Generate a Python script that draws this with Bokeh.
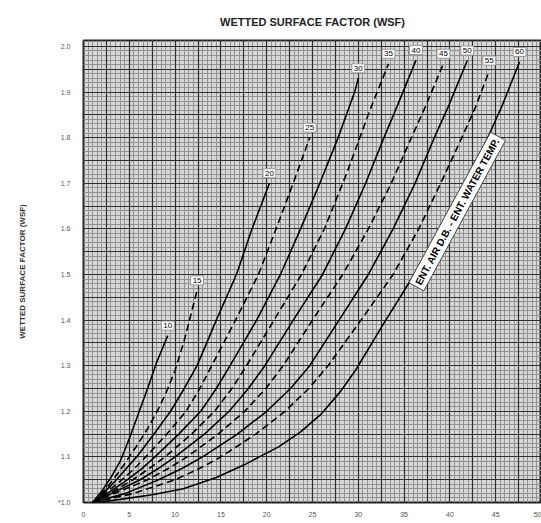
from bokeh.plotting import figure
from bokeh.models import (Grid, SingleIntervalTicker, FixedTicker, Label,
                          Title, Range1d)
from bokeh.embed import file_html
from bokeh.resources import INLINE

# ---- data (ENT. AIR D.B. - ENT. WATER TEMP. curves) ----
wsf_10_x = [1.0, 2.0, 3.0, 4.0, 5.0, 6.0, 7.0, 8.0, 9.2]
wsf_10_y = [1.0, 1.025, 1.055, 1.09, 1.14, 1.195, 1.25, 1.308, 1.366]

wsf_15_x = [1.0, 2.0, 3.0, 4.0, 5.0, 6.0, 7.0, 8.0, 9.0, 10.0, 11.0, 12.4]
wsf_15_y = [1.0, 1.02, 1.044, 1.07, 1.10, 1.13, 1.162, 1.198, 1.24, 1.29, 1.355, 1.465]

wsf_20_x = [1.0, 2.4, 3.6, 4.7, 5.8, 7.7, 9.5, 11.0, 12.4, 14.5, 16.7, 18.4, 20.3]
wsf_20_y = [1.0, 1.025, 1.05, 1.075, 1.10, 1.15, 1.20, 1.25, 1.30, 1.40, 1.50, 1.60, 1.70]

wsf_25_x = [1.0, 2.7, 4.2, 5.6, 6.8, 9.1, 11.2, 12.7, 14.0, 16.6, 19.1, 21.1, 23.0, 24.7]
wsf_25_y = [1.0, 1.025, 1.05, 1.075, 1.10, 1.15, 1.20, 1.25, 1.30, 1.40, 1.50, 1.604, 1.706, 1.80]

wsf_30_x = [1.0, 3.0, 4.8, 6.4, 7.8, 10.4, 12.8, 14.5, 16.0, 18.9, 21.5, 23.7, 25.8, 27.8, 29.6, 30.0]
wsf_30_y = [1.0, 1.025, 1.05, 1.075, 1.10, 1.15, 1.20, 1.25, 1.30, 1.40, 1.50, 1.60, 1.70, 1.80, 1.90, 1.93]

wsf_35_x = [1.0, 3.3, 5.4, 7.2, 8.9, 11.8, 14.3, 16.2, 17.8, 20.8, 23.8, 26.3, 28.7, 31.4, 33.3]
wsf_35_y = [1.0, 1.025, 1.05, 1.075, 1.10, 1.15, 1.20, 1.25, 1.30, 1.40, 1.50, 1.60, 1.72, 1.867, 1.962]

wsf_40_x = [1.0, 3.6, 6.2, 8.2, 10.0, 13.2, 15.9, 18.0, 19.8, 22.9, 26.1, 28.6, 30.8, 32.8, 34.2, 36.3]
wsf_40_y = [1.0, 1.025, 1.05, 1.075, 1.10, 1.15, 1.20, 1.25, 1.30, 1.40, 1.50, 1.60, 1.70, 1.80, 1.867, 1.97]

wsf_45_x = [1.0, 4.0, 7.0, 9.3, 11.3, 14.7, 17.6, 19.9, 21.8, 25.0, 28.3, 31.1, 33.6, 35.8, 37.3, 39.3]
wsf_45_y = [1.0, 1.025, 1.05, 1.075, 1.10, 1.15, 1.20, 1.25, 1.30, 1.40, 1.50, 1.60, 1.70, 1.80, 1.867, 1.962]

wsf_50_x = [1.0, 4.6, 8.2, 10.8, 13.0, 16.8, 20.0, 22.6, 24.7, 27.9, 31.1, 33.8, 36.2, 38.3, 39.8, 41.9]
wsf_50_y = [1.0, 1.02, 1.05, 1.075, 1.10, 1.15, 1.20, 1.25, 1.30, 1.40, 1.50, 1.60, 1.70, 1.80, 1.867, 1.969]

wsf_55_x = [1.0, 5.5, 10.0, 12.7, 15.0, 18.8, 22.0, 24.6, 26.7, 30.3, 33.8, 36.6, 39.0, 41.3, 42.8, 44.3]
wsf_55_y = [1.0, 1.02, 1.05, 1.075, 1.10, 1.15, 1.20, 1.25, 1.30, 1.40, 1.50, 1.60, 1.70, 1.80, 1.867, 1.947]

wsf_60_x = [1.5, 4.4, 7.5, 10.9, 14.5, 17.5, 19.2, 21.3, 23.7, 26.0, 28.0, 29.7, 32.7, 36.1, 38.8, 41.4, 43.8, 45.7, 47.6]
wsf_60_y = [1.0, 1.008, 1.017, 1.03, 1.055, 1.082, 1.10, 1.122, 1.155, 1.195, 1.242, 1.29, 1.39, 1.50, 1.595, 1.695, 1.785, 1.87, 1.966]

curve_labels = ["10", "15", "20", "25", "30", "35", "40", "45", "50", "55", "60"]
curve_dashed = [False, True, False, True, False, True, False, True, False, True, False]

x_ticks = [0, 5, 10, 15, 20, 25, 30, 35, 40, 45, 50]
y_ticks = [1.0, 1.1, 1.2, 1.3, 1.4, 1.5, 1.6, 1.7, 1.8, 1.9, 2.0]
y_tick_labels = ["*1.0", "1.1", "1.2", "1.3", "1.4", "1.5", "1.6", "1.7", "1.8", "1.9", "2.0"]

title_text = "WETTED SURFACE FACTOR (WSF)"
y_axis_title = "WETTED SURFACE FACTOR (WSF)"
curve_note = "ENT. AIR D.B. - ENT. WATER TEMP."

curves_x = [wsf_10_x, wsf_15_x, wsf_20_x, wsf_25_x, wsf_30_x, wsf_35_x,
            wsf_40_x, wsf_45_x, wsf_50_x, wsf_55_x, wsf_60_x]
curves_y = [wsf_10_y, wsf_15_y, wsf_20_y, wsf_25_y, wsf_30_y, wsf_35_y,
            wsf_40_y, wsf_45_y, wsf_50_y, wsf_55_y, wsf_60_y]

FONT = "Liberation Sans"

p = figure(frame_width=458, frame_height=462, output_backend="svg",
           toolbar_location=None,
           x_range=Range1d(0, 50), y_range=Range1d(1.0, 2.013),
           min_border_left=83, min_border_right=0, min_border_top=40,
           min_border_bottom=21)

p.background_fill_color = "#d8d8d8"
p.border_fill_color = "white"
p.outline_line_color = "#222222"
p.outline_line_width = 2

p.xgrid.grid_line_color = None
p.ygrid.grid_line_color = None

fine_x = Grid(dimension=0, ticker=SingleIntervalTicker(interval=0.5),
              grid_line_color="#929292", grid_line_width=1)
fine_y = Grid(dimension=1, ticker=SingleIntervalTicker(interval=0.01),
              grid_line_color="#929292", grid_line_width=1)
mid_x = Grid(dimension=0, ticker=SingleIntervalTicker(interval=2.5),
             grid_line_color="#303030", grid_line_width=1.2)
mid_y = Grid(dimension=1, ticker=SingleIntervalTicker(interval=0.05),
             grid_line_color="#303030", grid_line_width=1.2)
for g in (fine_x, fine_y, mid_x, mid_y):
    p.add_layout(g)

p.xaxis.ticker = FixedTicker(ticks=x_ticks)
p.yaxis.ticker = FixedTicker(ticks=y_ticks)
p.yaxis.major_label_overrides = {t: lab for t, lab in zip(y_ticks, y_tick_labels)}
for ax in (p.xaxis[0], p.yaxis[0]):
    ax.axis_line_color = None
    ax.major_tick_line_color = None
    ax.minor_tick_line_color = None
    ax.major_tick_out = 0
    ax.major_tick_in = 0
    ax.minor_tick_out = 0
    ax.minor_tick_in = 0
    ax.major_label_text_font = FONT
    ax.major_label_text_font_size = "7px"
    ax.major_label_text_color = "#555555"
p.xaxis.major_label_standoff = 9
p.yaxis.major_label_standoff = 13

p.yaxis.axis_label = y_axis_title
p.yaxis.axis_label_text_font = FONT
p.yaxis.axis_label_text_font_size = "8px"
p.yaxis.axis_label_text_font_style = "bold"
p.yaxis.axis_label_text_color = "#333333"
p.yaxis.axis_label_standoff = 28

title = Title(text=title_text, align="center", text_font=FONT,
              text_font_size="11px", text_font_style="bold", text_color="#222222",
              standoff=26)
p.add_layout(title, "above")

for cx, cy, dashed in zip(curves_x, curves_y, curve_dashed):
    p.line(cx, cy, line_color="black", line_width=1.6,
           line_dash="7 4" if dashed else "solid")

for cx, cy, lab in zip(curves_x, curves_y, curve_labels):
    p.add_layout(Label(x=cx[-1], y=cy[-1], text=lab, y_offset=10,
                       text_align="center", text_baseline="middle",
                       text_font=FONT, text_font_size="8px", text_color="black",
                       background_fill_color="white", border_line_color="#999999",
                       border_line_width=1, padding=2))

note = Label(x=40.8, y=1.638, text=curve_note, angle=61.5, angle_units="deg",
             text_align="center", text_baseline="middle", text_font=FONT,
             text_font_size="10px", text_font_style="bold", text_color="black",
             background_fill_color="white", border_line_color="#444444",
             border_line_width=1, padding=3)
p.add_layout(note)

open("out.html", "w").write(file_html(p, INLINE))
